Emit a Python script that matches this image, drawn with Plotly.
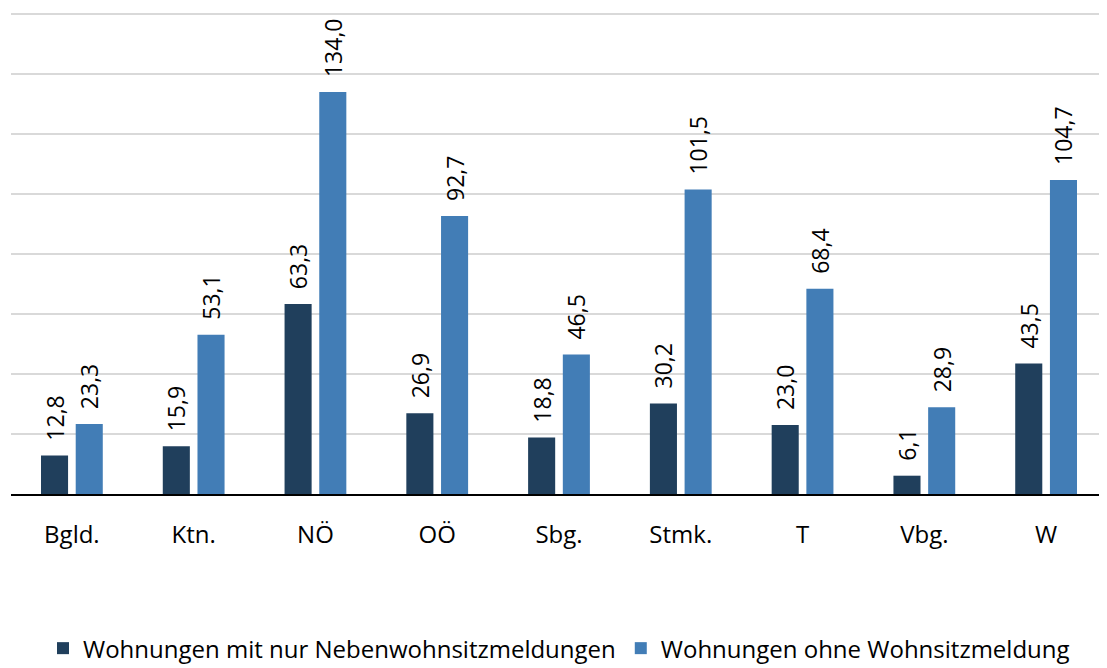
import plotly.graph_objects as go

regions = ["Bgld.", "Ktn.", "NÖ", "OÖ", "Sbg.", "Stmk.", "T", "Vbg.", "W"]
neben = [12.8, 15.9, 63.3, 26.9, 18.8, 30.2, 23.0, 6.1, 43.5]
ohne = [23.3, 53.1, 134.0, 92.7, 46.5, 101.5, 68.4, 28.9, 104.7]

series_names = ["Wohnungen mit nur Nebenwohnsitzmeldungen", "Wohnungen ohne Wohnsitzmeldung"]
colors = ["#203F5C", "#427DB6"]


def fmt(v):
    # comma decimal, a little padding between bar and rotated label
    return "\u00a0\u00a0" + f"{v:.1f}".replace(".", ",")


fig = go.Figure()
for name, vals, col in zip(series_names, [neben, ohne], colors):
    fig.add_trace(go.Bar(
        x=regions, y=vals, name=name,
        marker=dict(color=col, line=dict(width=0)),
        text=[fmt(v) for v in vals],
        textposition="outside", textangle=-90, constraintext="none",
        textfont=dict(size=23, color="#000000"),
        cliponaxis=False,
    ))

# the page body adds an 8px margin, so the figure is 8px smaller
fig.update_layout(
    width=1099, height=660,
    margin=dict(l=3, r=0, t=0, b=174, autoexpand=False),
    paper_bgcolor="white", plot_bgcolor="white",
    font=dict(family="Open Sans, sans-serif", color="#000000"),
    barmode="group", bargap=0.43, bargroupgap=0.22,
    showlegend=True,
    legend=dict(orientation="h", x=0.5, xanchor="center", y=-0.318, yanchor="middle",
                font=dict(size=24, color="#000000"), itemwidth=30,
                traceorder="normal"),
)
fig.update_xaxes(
    showgrid=False, showline=True, linecolor="#000000", linewidth=1.5,
    tickfont=dict(size=24, color="#000000"), ticks="", ticklabelstandoff=18,
    automargin=False,
)
fig.update_yaxes(
    range=[0, 162], dtick=20, showgrid=True, gridcolor="#D9D9D9", gridwidth=1.5,
    showticklabels=False, zeroline=False, automargin=False,
)

fig.write_html("out.html")
